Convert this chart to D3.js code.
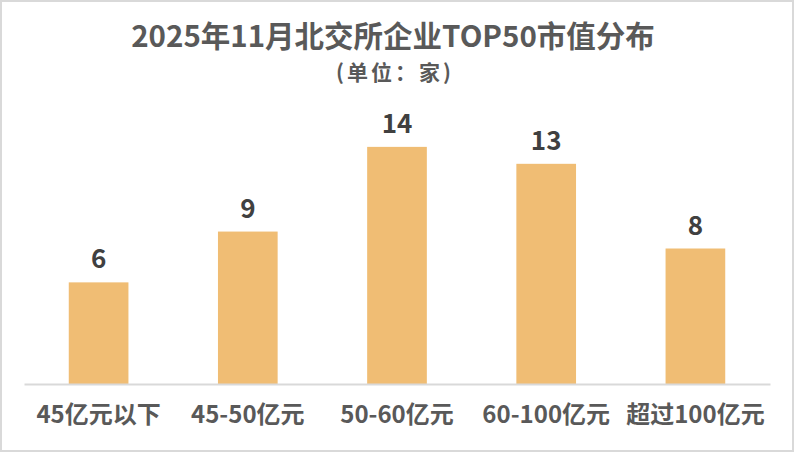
<!DOCTYPE html>
<html><head><meta charset="utf-8">
<script src="https://cdn.jsdelivr.net/npm/d3@7/dist/d3.min.js"></script>
<style>
html,body{margin:0;padding:0;background:#fff;}
svg{display:block;font-family:"Noto Sans CJK SC","Noto Sans",sans-serif;}
</style></head>
<body><svg id="c" width="794" height="452"></svg>
<script>
const title = "2025年11月北交所企业TOP50市值分布";
const subtitle = "(单位：家)";
const categories = ["45亿元以下","45-50亿元","50-60亿元","60-100亿元","超过100亿元"];
const values = [6, 9, 14, 13, 8];

const svg = d3.select("#c");
const W = 794, H = 452;
svg.append("rect").attr("x",1).attr("y",1).attr("width",W-2).attr("height",H-2)
  .attr("fill","#fff").attr("stroke","#d9d9d9").attr("stroke-width",2);

const x = d3.scaleBand().domain(categories).range([24,770]).paddingInner(0.6).paddingOuter(0.3);
const y = d3.scaleLinear().domain([0,16]).range([384,113]);

svg.append("text").attr("x",393).attr("y",47).attr("text-anchor","middle")
  .attr("font-size",29.5).attr("font-weight","bold").attr("fill","#595959").text(title);
svg.append("text").attr("x",395).attr("y",80).attr("text-anchor","middle")
  .attr("font-size",21).attr("letter-spacing",3).attr("font-weight","bold").attr("fill","#595959").text(subtitle);

svg.append("g").selectAll("rect").data(values).join("rect")
  .attr("x",(d,i)=>x(categories[i])).attr("width",x.bandwidth())
  .attr("y",d=>y(d)).attr("height",d=>y(0)-y(d)).attr("fill","#F0BD74");

svg.append("g").selectAll("text").data(values).join("text")
  .attr("x",(d,i)=>x(categories[i])+x.bandwidth()/2).attr("y",d=>y(d)-14)
  .attr("text-anchor","middle").attr("font-size",26).attr("font-weight","bold")
  .attr("fill","#404040").text(d=>d);

const ax = svg.append("g").attr("transform",`translate(0,${y(0)})`)
  .call(d3.axisBottom(x).tickSize(0).tickPadding(20));
ax.select(".domain").attr("stroke","#d9d9d9").attr("stroke-width",2);
ax.selectAll("text").attr("y",39).attr("dy",0).attr("font-size",24).attr("font-weight","bold")
  .attr("fill","#595959").attr("font-family","\"Noto Sans CJK SC\",sans-serif");
</script></body></html>
